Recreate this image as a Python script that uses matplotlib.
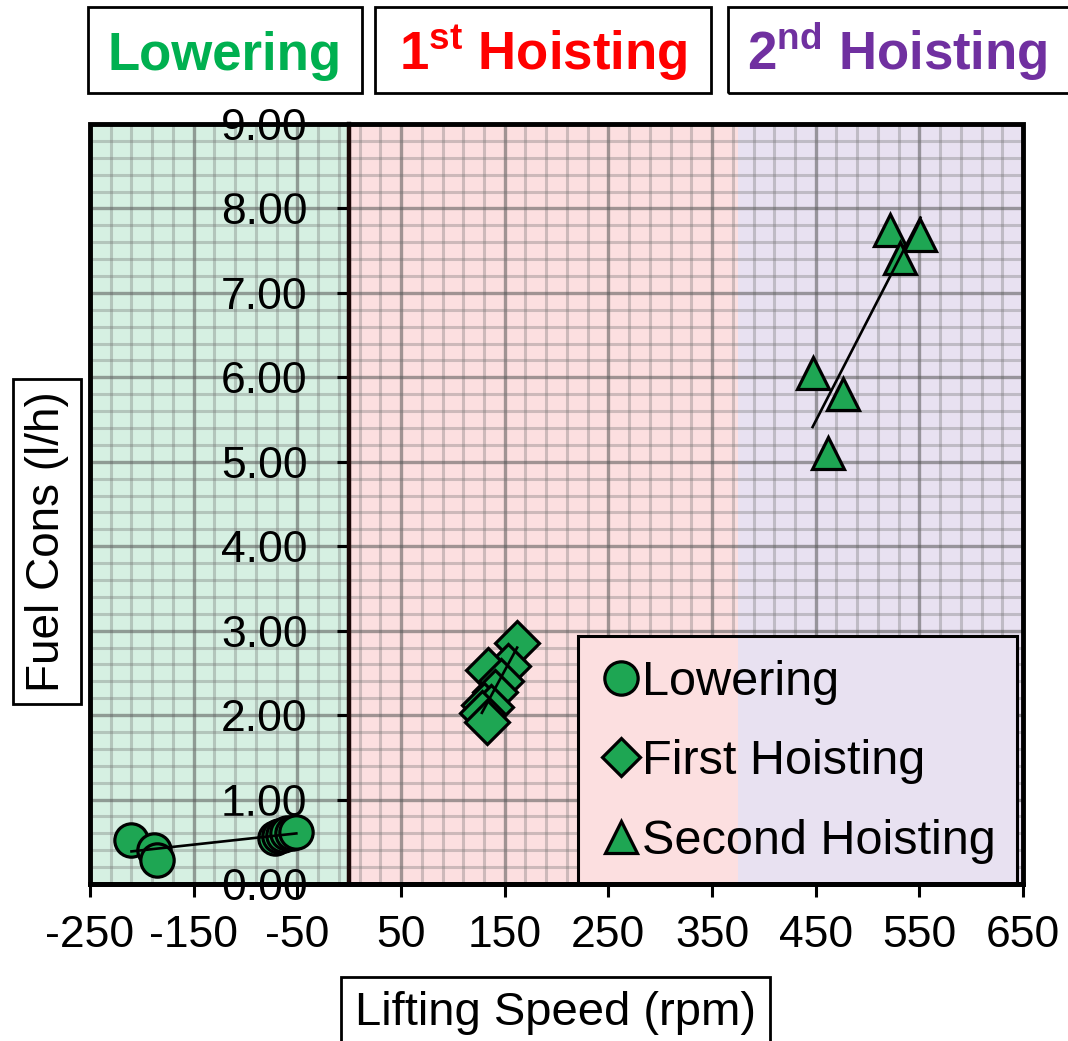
import matplotlib
matplotlib.use('Agg')
import matplotlib.pyplot as plt
from matplotlib.patches import Rectangle
from matplotlib.ticker import FixedLocator
import numpy as np

plt.rcParams['font.family'] = ['Liberation Sans', 'DejaVu Sans']
plt.rcParams['mathtext.fontset'] = 'custom'
plt.rcParams['mathtext.rm'] = 'Liberation Sans'
plt.rcParams['mathtext.bf'] = 'Liberation Sans:bold'
plt.rcParams['axes.unicode_minus'] = False

# lifting speed (rpm) vs fuel consumption (l/h) per crane phase
lower_x = [-210, -188, -185, -72, -68, -64, -60, -55, -51]
lower_y = [0.52, 0.40, 0.28, 0.55, 0.57, 0.58, 0.60, 0.61, 0.62]

first_x = [162, 153, 134, 146, 141, 130, 137, 128, 133]
first_y = [2.85, 2.58, 2.53, 2.40, 2.27, 2.12, 2.10, 2.02, 1.92]

second_x = [447, 476, 462, 522, 551, 531]
second_y = [6.05, 5.80, 5.10, 7.75, 7.68, 7.41]

series_names = ['Lowering', 'First Hoisting', 'Second Hoisting']
phase_titles = ['Lowering', '1$^{\\mathbf{st}}$ Hoisting', '2$^{\\mathbf{nd}}$ Hoisting']
phase_colors = ['#00b050', '#ff0000', '#7030a0']
phase_edges = [-250, 0, 375, 650]
x_ticks = np.arange(-250, 651, 100)
y_ticks = np.arange(0, 9.01, 1)

bg_colors = ['#d6f0e2', '#fcdfe0', '#e8e1f1']
mk_color = '#1ea653'

fig = plt.figure(figsize=(10.68, 10.41), dpi=100)
ax = fig.add_axes([0.0843, 0.1508, 0.8736, 0.7301])
ax.set_xlim(-250, 650)
ax.set_ylim(0, 9)
ax.set_axisbelow(True)

# shaded phase regions
for i in range(3):
    ax.axvspan(phase_edges[i], phase_edges[i + 1], color=bg_colors[i], lw=0, zorder=0)

ax.set_xticks(x_ticks)
ax.set_yticks(y_ticks)
ax.set_yticklabels(['%.2f' % v for v in y_ticks])
ax.xaxis.set_minor_locator(FixedLocator(np.arange(-250, 651, 20)))
ax.yaxis.set_minor_locator(FixedLocator(np.arange(0, 9.01, 0.2)))
ax.grid(which='minor', color='#6e6e6e', alpha=0.33, lw=2.2)
ax.grid(which='major', color='#555555', alpha=0.55, lw=2.4)
ax.tick_params(which='minor', length=0)
ax.tick_params(axis='x', which='major', direction='out', length=9, width=2.2,
               labelsize=32, pad=13)
ax.tick_params(axis='y', which='major', direction='out', length=9, width=2.2,
               labelsize=32, pad=21)

ax.spines['left'].set_position(('data', 0))
ax.spines['left'].set_linewidth(3.2)
ax.spines['left'].set_color('#1a0505')
ax.spines['bottom'].set_linewidth(3.5)
ax.spines['top'].set_visible(False)
ax.spines['right'].set_visible(False)
ax.add_patch(Rectangle((0, 0), 1, 1, transform=ax.transAxes, fill=False,
                       ec='black', lw=3.5, zorder=6, clip_on=False))

# data points + linear trend lines
markers = ['o', 'D', '^']
sizes = [24, 22, 23]
data = [(lower_x, lower_y), (first_x, first_y), (second_x, second_y)]
for (xs, ys), m, s, name in zip(data, markers, sizes, series_names):
    ax.plot(xs, ys, m, ms=s, mfc=mk_color, mec='black', mew=2.3, zorder=4, label=name)
    k, b = np.polyfit(xs, ys, 1)
    xx = np.array([min(xs), max(xs)])
    ax.plot(xx, k * xx + b, color='black', lw=1.9, zorder=5)

# legend backdrop
lx0, lx1, ly1 = 0.523, 0.9936, 0.326
split = (phase_edges[2] - phase_edges[0]) / (phase_edges[3] - phase_edges[0])
ax.add_patch(Rectangle((lx0, 0), split - lx0, ly1, transform=ax.transAxes,
                       fc=bg_colors[1], lw=0, zorder=2))
ax.add_patch(Rectangle((split, 0), lx1 - split, ly1, transform=ax.transAxes,
                       fc=bg_colors[2], lw=0, zorder=2))
ax.add_patch(Rectangle((lx0, 0), lx1 - lx0, ly1, transform=ax.transAxes,
                       fill=False, ec='black', lw=2.2, zorder=3))
leg = ax.legend(loc='center', bbox_to_anchor=(0.760, 0.161), frameon=False, fontsize=35,
                handletextpad=0.05, labelspacing=0.71, handlelength=0.78, borderpad=0,
                markerscale=1.0)
leg.legend_handles[1].set_markersize(19)

# axis titles in boxes
fig.text(0.520, 0.027, 'Lifting Speed (rpm)', fontsize=34, ha='center', va='center',
         bbox=dict(boxstyle='square,pad=0.3', fc='white', ec='black', lw=2))
fig.text(0.044, 0.4798, 'Fuel Cons (l/h)', fontsize=33, ha='center', va='center',
         rotation=90,
         bbox=dict(boxstyle='square,pad=0.26', fc='white', ec='black', lw=2))

# phase header boxes
header_spans = [(88, 362), (375, 711), (728, 1090)]
W, H = 1068, 1041
for (l, r), title, c in zip(header_spans, phase_titles, phase_colors):
    fig.patches.append(Rectangle((l / W, (H - 93) / H), (r - l) / W, 86 / H,
                                 transform=fig.transFigure, fill=False,
                                 ec='black', lw=2))
    fig.text((l + r) / 2 / W if r < W else 897 / W, (H - 70) / H, title,
             fontsize=38, fontweight='bold', color=c, ha='center', va='baseline')

fig.savefig('out.png', dpi=100)
